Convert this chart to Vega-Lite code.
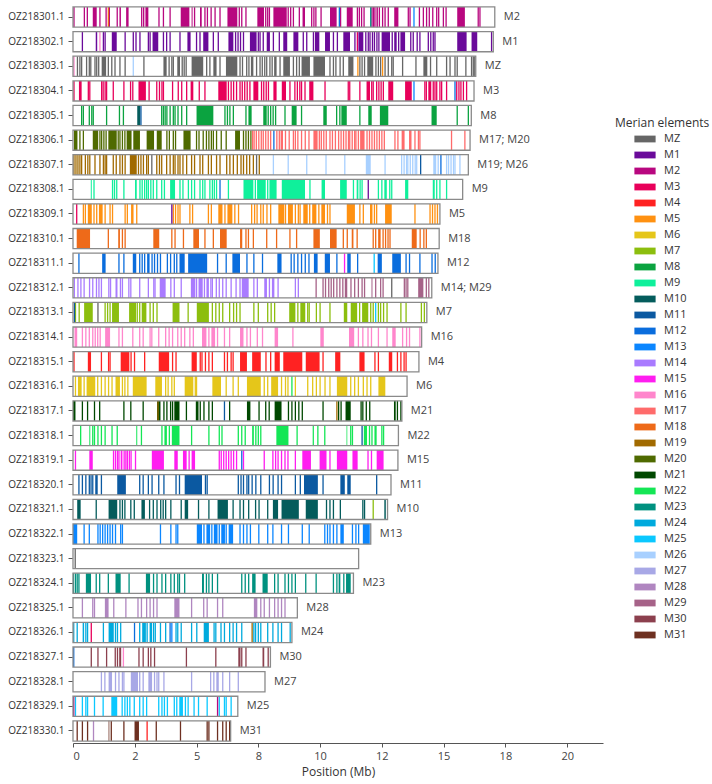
{
"$schema":"https://vega.github.io/schema/vega-lite/v6.json",
"width":530,"height":738,
"autosize":"none",
"padding":{"left":73,"top":5,"right":109,"bottom":41},
"config":{"font":"Open Sans","view":{"stroke":null}},
"datasets":{
"chroms":[
{"c":1,"name":"OZ218301.1","st":0,"len":17.07,"lab":"M2"},
{"c":2,"name":"OZ218302.1","st":0,"len":17.01,"lab":"M1"},
{"c":3,"name":"OZ218303.1","st":0,"len":16.30,"lab":"MZ"},
{"c":4,"name":"OZ218304.1","st":0,"len":16.23,"lab":"M3"},
{"c":5,"name":"OZ218305.1","st":0,"len":16.12,"lab":"M8"},
{"c":6,"name":"OZ218306.1","st":0,"len":16.07,"lab":"M17; M20"},
{"c":7,"name":"OZ218307.1","st":0,"len":16.00,"lab":"M19; M26"},
{"c":8,"name":"OZ218308.1","st":0,"len":15.77,"lab":"M9"},
{"c":9,"name":"OZ218309.1","st":0,"len":14.85,"lab":"M5"},
{"c":10,"name":"OZ218310.1","st":0,"len":14.82,"lab":"M18"},
{"c":11,"name":"OZ218311.1","st":0,"len":14.77,"lab":"M12"},
{"c":12,"name":"OZ218312.1","st":0,"len":14.52,"lab":"M14; M29"},
{"c":13,"name":"OZ218313.1","st":0,"len":14.32,"lab":"M7"},
{"c":14,"name":"OZ218314.1","st":0,"len":14.11,"lab":"M16"},
{"c":15,"name":"OZ218315.1","st":0,"len":14.00,"lab":"M4"},
{"c":16,"name":"OZ218316.1","st":0,"len":13.52,"lab":"M6"},
{"c":17,"name":"OZ218317.1","st":0,"len":13.31,"lab":"M21"},
{"c":18,"name":"OZ218318.1","st":0,"len":13.17,"lab":"M22"},
{"c":19,"name":"OZ218319.1","st":0,"len":13.15,"lab":"M15"},
{"c":20,"name":"OZ218320.1","st":0,"len":12.87,"lab":"M11"},
{"c":21,"name":"OZ218321.1","st":0,"len":12.73,"lab":"M10"},
{"c":22,"name":"OZ218322.1","st":0,"len":12.05,"lab":"M13"},
{"c":23,"name":"OZ218323.1","st":0,"len":11.56,"lab":""},
{"c":24,"name":"OZ218324.1","st":0,"len":11.35,"lab":"M23"},
{"c":25,"name":"OZ218325.1","st":0,"len":9.08,"lab":"M28"},
{"c":26,"name":"OZ218326.1","st":0,"len":8.86,"lab":"M24"},
{"c":27,"name":"OZ218327.1","st":0,"len":7.99,"lab":"M30"},
{"c":28,"name":"OZ218328.1","st":0,"len":7.77,"lab":"M27"},
{"c":29,"name":"OZ218329.1","st":0,"len":6.67,"lab":"M25"},
{"c":30,"name":"OZ218330.1","st":0,"len":6.38,"lab":"M31"}
],
"blocks":[
{"c":1,"m":"M2","s":0.80,"e":0.96},{"c":1,"m":"M2","s":1.88,"e":1.94},{"c":1,"m":"M2","s":2.15,"e":2.25},{"c":1,"m":"M2","s":2.93,"e":3.05},{"c":1,"m":"M2","s":4.36,"e":4.71},{"c":1,"m":"M2","s":4.80,"e":4.84},{"c":1,"m":"M2","s":5.14,"e":5.21},{"c":1,"m":"M2","s":6.25,"e":6.65},{"c":1,"m":"M2","s":7.46,"e":7.73},{"c":1,"m":"M2","s":8.11,"e":8.65},{"c":1,"m":"M2","s":9.29,"e":9.39},{"c":1,"m":"M2","s":10.40,"e":10.67},{"c":1,"m":"M2","s":11.08,"e":11.32},{"c":1,"m":"M2","s":12.28,"e":12.34},{"c":1,"m":"M2","s":13.0,"e":13.17},{"c":1,"m":"M2","s":15.55,"e":15.86},
{"c":2,"m":"M1","s":0.92,"e":0.98},{"c":2,"m":"M1","s":1.57,"e":1.77},{"c":2,"m":"M1","s":3.22,"e":3.45},{"c":2,"m":"M1","s":4.63,"e":4.76},{"c":2,"m":"M1","s":5.27,"e":5.48},{"c":2,"m":"M1","s":6.29,"e":6.49},{"c":2,"m":"M1","s":7.16,"e":7.43},{"c":2,"m":"M1","s":7.84,"e":7.97},{"c":2,"m":"M1","s":8.51,"e":8.67},{"c":2,"m":"M1","s":8.92,"e":9.12},{"c":2,"m":"M1","s":9.79,"e":9.97},{"c":2,"m":"M1","s":10.2,"e":10.4},{"c":2,"m":"M1","s":10.94,"e":11.21},{"c":2,"m":"M1","s":11.55,"e":11.75},{"c":2,"m":"M1","s":12.49,"e":12.83},{"c":2,"m":"M1","s":13.0,"e":13.1},{"c":2,"m":"M1","s":13.25,"e":13.44},{"c":2,"m":"M1","s":15.55,"e":15.93},{"c":2,"m":"M1","s":16.13,"e":16.36},
{"c":3,"m":"MZ","s":1.16,"e":1.34},{"c":3,"m":"MZ","s":3.66,"e":3.79},{"c":3,"m":"MZ","s":4.22,"e":4.33},{"c":3,"m":"MZ","s":4.80,"e":5.27},{"c":3,"m":"MZ","s":5.68,"e":5.81},{"c":3,"m":"MZ","s":6.19,"e":6.65},{"c":3,"m":"MZ","s":7.2,"e":7.30},{"c":3,"m":"MZ","s":8.14,"e":8.24},{"c":3,"m":"MZ","s":8.51,"e":8.78},{"c":3,"m":"MZ","s":9.25,"e":9.59},{"c":3,"m":"MZ","s":9.73,"e":10.2},{"c":3,"m":"MZ","s":11.14,"e":11.35},{"c":3,"m":"MZ","s":11.91,"e":12.15},{"c":3,"m":"MZ","s":14.18,"e":14.34},
{"c":4,"m":"M3","s":0.24,"e":0.35},{"c":4,"m":"M3","s":2.65,"e":2.95},{"c":4,"m":"M3","s":4.76,"e":4.87},{"c":4,"m":"M3","s":5.88,"e":6.22},{"c":4,"m":"M3","s":7.30,"e":7.50},{"c":4,"m":"M3","s":8.11,"e":8.24},{"c":4,"m":"M3","s":8.45,"e":8.62},{"c":4,"m":"M3","s":9.56,"e":9.73},{"c":4,"m":"M3","s":11.88,"e":12.02},{"c":4,"m":"M3","s":12.76,"e":12.96},{"c":4,"m":"M3","s":13.44,"e":13.71},{"c":4,"m":"M3","s":14.38,"e":14.5},
{"c":5,"m":"M10","s":2.6,"e":2.72},{"c":5,"m":"M8","s":5.0,"e":5.68},{"c":5,"m":"M8","s":7.1,"e":7.23},{"c":5,"m":"M8","s":7.7,"e":7.84},{"c":5,"m":"M8","s":8.85,"e":9.05},{"c":5,"m":"M8","s":10.13,"e":10.27},{"c":5,"m":"M8","s":10.86,"e":11.08},{"c":5,"m":"M8","s":11.95,"e":12.09},{"c":5,"m":"M8","s":12.42,"e":12.76},{"c":5,"m":"M8","s":14.51,"e":14.72},
{"c":6,"m":"M20","s":0.04,"e":0.18},{"c":6,"m":"M20","s":0.80,"e":1.02},{"c":6,"m":"M20","s":1.43,"e":1.77},{"c":6,"m":"M20","s":2.17,"e":2.37},{"c":6,"m":"M20","s":2.44,"e":2.71},{"c":6,"m":"M20","s":2.98,"e":3.28},{"c":6,"m":"M20","s":3.39,"e":3.59},{"c":6,"m":"M20","s":4.47,"e":4.76},{"c":6,"m":"M20","s":6.56,"e":6.76},{"c":6,"m":"M17","s":8.4,"e":8.5},{"c":6,"m":"M17","s":9.73,"e":9.9},{"c":6,"m":"M17","s":11.62,"e":11.8},{"c":6,"m":"M17","s":13.3,"e":13.42},{"c":6,"m":"M17","s":13.6,"e":13.7},
{"c":7,"m":"M19","s":2.3,"e":2.58},{"c":7,"m":"M26","s":11.85,"e":12.05},{"c":7,"m":"M26","s":14.58,"e":14.7},
{"c":8,"m":"M9","s":0.72,"e":0.76},{"c":8,"m":"M9","s":2.51,"e":2.58},{"c":8,"m":"M9","s":3.93,"e":4.13},{"c":8,"m":"M9","s":6.9,"e":7.3},{"c":8,"m":"M9","s":7.45,"e":7.8},{"c":8,"m":"M9","s":7.95,"e":8.24},{"c":8,"m":"M9","s":8.45,"e":9.39},{"c":8,"m":"M9","s":10.06,"e":10.2},{"c":8,"m":"M9","s":10.81,"e":11.08},{"c":8,"m":"M9","s":11.48,"e":11.55},{"c":8,"m":"M9","s":12.6,"e":12.7},{"c":8,"m":"M9","s":13.44,"e":13.57},{"c":8,"m":"M9","s":14.56,"e":14.64},
{"c":9,"m":"M5","s":0.6,"e":0.76},{"c":9,"m":"M5","s":1.05,"e":1.2},{"c":9,"m":"M5","s":2.35,"e":2.45},{"c":9,"m":"M5","s":5.88,"e":6.05},{"c":9,"m":"M5","s":6.25,"e":6.45},{"c":9,"m":"M5","s":8.31,"e":8.55},{"c":9,"m":"M5","s":8.7,"e":8.9},{"c":9,"m":"M5","s":9.32,"e":9.5},{"c":9,"m":"M5","s":9.68,"e":9.85},{"c":9,"m":"M5","s":10.05,"e":10.2},{"c":9,"m":"M5","s":11.08,"e":11.41},{"c":9,"m":"M5","s":12.02,"e":12.12},{"c":9,"m":"M5","s":12.63,"e":12.9},
{"c":10,"m":"M18","s":0.15,"e":0.69},{"c":10,"m":"M18","s":1.83,"e":1.9},{"c":10,"m":"M18","s":3.25,"e":3.49},{"c":10,"m":"M18","s":4.87,"e":5.1},{"c":10,"m":"M18","s":5.95,"e":6.22},{"c":10,"m":"M18","s":6.76,"e":6.85},{"c":10,"m":"M18","s":9.73,"e":9.99},{"c":10,"m":"M18","s":10.4,"e":10.67},{"c":10,"m":"M18","s":11.28,"e":11.35},{"c":10,"m":"M18","s":12.35,"e":12.45},{"c":10,"m":"M18","s":13.71,"e":13.91},
{"c":11,"m":"M12","s":1.18,"e":1.32},{"c":11,"m":"M12","s":2.42,"e":2.56},{"c":11,"m":"M12","s":3.0,"e":3.1},{"c":11,"m":"M12","s":4.31,"e":4.52},{"c":11,"m":"M12","s":4.66,"e":5.43},{"c":11,"m":"M12","s":6.45,"e":6.76},{"c":11,"m":"M12","s":8.27,"e":8.44},{"c":11,"m":"M12","s":9.75,"e":9.9},{"c":11,"m":"M12","s":10.19,"e":10.4},{"c":11,"m":"M12","s":11.1,"e":11.24},{"c":11,"m":"M12","s":12.33,"e":12.5},{"c":11,"m":"M12","s":12.92,"e":13.27},
{"c":12,"m":"M14","s":0.03,"e":0.08},{"c":12,"m":"M14","s":1.72,"e":1.80},{"c":12,"m":"M14","s":3.51,"e":3.75},{"c":12,"m":"M14","s":4.77,"e":4.95},{"c":12,"m":"M14","s":5.08,"e":5.25},{"c":12,"m":"M14","s":5.4,"e":5.5},{"c":12,"m":"M14","s":6.83,"e":7.11},{"c":12,"m":"M14","s":7.74,"e":7.85},{"c":12,"m":"M14","s":8.05,"e":8.15},{"c":12,"m":"M29","s":11.0,"e":11.1},{"c":12,"m":"M29","s":12.08,"e":12.12},{"c":12,"m":"M29","s":13.97,"e":14.18},
{"c":13,"m":"M7","s":0.45,"e":0.8},{"c":13,"m":"M7","s":1.58,"e":1.86},{"c":13,"m":"M7","s":2.27,"e":2.55},{"c":13,"m":"M7","s":2.78,"e":2.97},{"c":13,"m":"M7","s":4.03,"e":4.31},{"c":13,"m":"M7","s":5.01,"e":5.5},{"c":13,"m":"M7","s":8.75,"e":9.0},{"c":13,"m":"M7","s":9.2,"e":9.4},{"c":13,"m":"M7","s":10.96,"e":11.1},{"c":13,"m":"M7","s":11.24,"e":11.5},{"c":13,"m":"M7","s":11.7,"e":11.95},
{"c":14,"m":"M16","s":0.06,"e":0.17},{"c":14,"m":"M16","s":1.3,"e":1.5},{"c":14,"m":"M16","s":5.22,"e":5.4},{"c":14,"m":"M16","s":5.6,"e":5.75},{"c":14,"m":"M16","s":6.76,"e":6.9},{"c":14,"m":"M16","s":8.16,"e":8.3},{"c":14,"m":"M16","s":10.01,"e":10.15},{"c":14,"m":"M16","s":11.17,"e":11.38},{"c":14,"m":"M16","s":12.92,"e":13.06},
{"c":15,"m":"M4","s":0.6,"e":0.73},{"c":15,"m":"M4","s":1.93,"e":2.28},{"c":15,"m":"M4","s":3.47,"e":3.89},{"c":15,"m":"M4","s":4.8,"e":5.01},{"c":15,"m":"M4","s":6.76,"e":7.04},{"c":15,"m":"M4","s":7.25,"e":7.6},{"c":15,"m":"M4","s":8.16,"e":8.37},{"c":15,"m":"M4","s":8.51,"e":9.28},{"c":15,"m":"M4","s":9.42,"e":9.98},{"c":15,"m":"M4","s":10.61,"e":10.82},{"c":15,"m":"M4","s":11.59,"e":11.8},{"c":15,"m":"M4","s":12.78,"e":12.92},
{"c":16,"m":"M6","s":0.2,"e":0.35},{"c":16,"m":"M6","s":0.55,"e":0.9},{"c":16,"m":"M6","s":1.72,"e":1.9},{"c":16,"m":"M6","s":2.42,"e":2.98},{"c":16,"m":"M6","s":3.33,"e":3.6},{"c":16,"m":"M6","s":4.52,"e":4.87},{"c":16,"m":"M6","s":5.64,"e":5.99},{"c":16,"m":"M6","s":7.04,"e":7.6},{"c":16,"m":"M6","s":8.02,"e":8.3},{"c":16,"m":"M6","s":10.68,"e":11.1},{"c":16,"m":"M6","s":12.36,"e":12.64},
{"c":17,"m":"M21","s":0.0,"e":0.1},{"c":17,"m":"M21","s":3.4,"e":3.54},{"c":17,"m":"M21","s":4.1,"e":4.31},{"c":17,"m":"M21","s":4.97,"e":5.08},{"c":17,"m":"M21","s":7.04,"e":7.18},{"c":17,"m":"M21","s":8.16,"e":8.44},{"c":17,"m":"M21","s":11.03,"e":11.24},{"c":17,"m":"M21","s":12.99,"e":13.06},
{"c":18,"m":"M22","s":0.66,"e":0.7},{"c":18,"m":"M22","s":2.56,"e":2.6},{"c":18,"m":"M22","s":3.7,"e":3.8},{"c":18,"m":"M22","s":4.0,"e":4.31},{"c":18,"m":"M22","s":7.25,"e":7.32},{"c":18,"m":"M22","s":8.23,"e":8.72},{"c":18,"m":"M22","s":9.7,"e":9.75},{"c":18,"m":"M22","s":11.07,"e":11.1},{"c":18,"m":"M22","s":11.77,"e":11.9},{"c":18,"m":"M22","s":12.2,"e":12.29},
{"c":19,"m":"M15","s":0.66,"e":0.8},{"c":19,"m":"M15","s":1.93,"e":2.0},{"c":19,"m":"M15","s":3.19,"e":3.68},{"c":19,"m":"M15","s":4.1,"e":4.24},{"c":19,"m":"M15","s":4.45,"e":4.6},{"c":19,"m":"M15","s":4.8,"e":4.94},{"c":19,"m":"M15","s":9.28,"e":9.63},{"c":19,"m":"M15","s":9.98,"e":10.26},{"c":19,"m":"M15","s":10.68,"e":11.1},{"c":19,"m":"M15","s":11.31,"e":11.52},{"c":19,"m":"M15","s":12.29,"e":12.57},
{"c":20,"m":"M11","s":0.9,"e":1.0},{"c":20,"m":"M11","s":1.79,"e":2.14},{"c":20,"m":"M11","s":4.52,"e":5.22},{"c":20,"m":"M11","s":9.35,"e":9.91},{"c":20,"m":"M11","s":10.82,"e":11.0},{"c":20,"m":"M11","s":11.1,"e":11.24},
{"c":21,"m":"M10","s":0.17,"e":0.31},{"c":21,"m":"M10","s":1.44,"e":1.79},{"c":21,"m":"M10","s":2.77,"e":2.91},{"c":21,"m":"M10","s":4.52,"e":4.66},{"c":21,"m":"M10","s":5.85,"e":6.27},{"c":21,"m":"M10","s":8.09,"e":8.3},{"c":21,"m":"M10","s":8.44,"e":9.14},{"c":21,"m":"M10","s":9.42,"e":9.91},{"c":21,"m":"M10","s":12.6,"e":12.66},
{"c":22,"m":"M13","s":0.0,"e":0.17},{"c":22,"m":"M13","s":5.01,"e":5.22},{"c":22,"m":"M13","s":5.4,"e":5.55},{"c":22,"m":"M13","s":5.7,"e":5.85},{"c":22,"m":"M13","s":6.0,"e":6.15},{"c":22,"m":"M13","s":6.3,"e":6.48},{"c":22,"m":"M13","s":10.82,"e":10.96},{"c":22,"m":"M13","s":11.73,"e":12.01},
{"c":24,"m":"M23","s":0.52,"e":0.73},{"c":24,"m":"M23","s":1.72,"e":1.93},{"c":24,"m":"M23","s":2.95,"e":3.12},{"c":24,"m":"M23","s":5.22,"e":5.3},{"c":24,"m":"M23","s":7.25,"e":7.39},{"c":24,"m":"M23","s":7.67,"e":7.88},{"c":24,"m":"M23","s":10.75,"e":10.82},{"c":24,"m":"M23","s":11.05,"e":11.24},
{"c":25,"m":"M28","s":1.29,"e":1.44},{"c":25,"m":"M28","s":4.1,"e":4.31},{"c":25,"m":"M28","s":7.32,"e":7.46},
{"c":26,"m":"M24","s":0.39,"e":0.45},{"c":26,"m":"M24","s":1.44,"e":1.65},{"c":26,"m":"M24","s":2.8,"e":2.95},{"c":26,"m":"M24","s":3.1,"e":3.2},{"c":26,"m":"M24","s":5.29,"e":5.5},
{"c":27,"m":"M30","s":1.87,"e":1.95},{"c":27,"m":"M30","s":6.69,"e":6.78},{"c":27,"m":"M30","s":7.67,"e":7.74},
{"c":28,"m":"M27","s":1.44,"e":1.58},{"c":28,"m":"M27","s":2.34,"e":2.63},{"c":28,"m":"M27","s":3.05,"e":3.2},{"c":28,"m":"M27","s":5.8,"e":5.9},
{"c":29,"m":"M25","s":1.55,"e":1.79},{"c":29,"m":"M25","s":4.3,"e":4.45},
{"c":30,"m":"M31","s":1.44,"e":1.47},{"c":30,"m":"M31","s":2.49,"e":2.67}
],
"genes":[
{"c":1,"m":"M2","p":0.04},{"c":1,"m":"M2","p":0.46},{"c":1,"m":"M2","p":0.58},{"c":1,"m":"M2","p":1.09},{"c":1,"m":"M2","p":1.34},{"c":1,"m":"M2","p":1.47},{"c":1,"m":"M2","p":1.79},{"c":1,"m":"M2","p":2.78},{"c":1,"m":"M2","p":2.86},{"c":1,"m":"M2","p":3.48},{"c":1,"m":"M2","p":3.66},{"c":1,"m":"M2","p":3.93},{"c":1,"m":"M2","p":4.92},{"c":1,"m":"M2","p":5.34},{"c":1,"m":"M2","p":5.44},{"c":1,"m":"M2","p":5.59},{"c":1,"m":"M2","p":5.75},{"c":1,"m":"M2","p":5.95},{"c":1,"m":"M2","p":6.73},{"c":1,"m":"M2","p":6.83},{"c":1,"m":"M2","p":7.00},{"c":1,"m":"M2","p":7.80},{"c":1,"m":"M2","p":7.88},{"c":1,"m":"M2","p":7.95},{"c":1,"m":"M2","p":8.71},{"c":1,"m":"M2","p":8.81},{"c":1,"m":"M2","p":8.92},{"c":1,"m":"M2","p":9.16},{"c":1,"m":"M2","p":9.66},{"c":1,"m":"M2","p":9.75},{"c":1,"m":"M2","p":9.83},{"c":1,"m":"M2","p":10.04},{"c":1,"m":"M2","p":10.83},{"c":1,"m":"M2","p":11.51},{"c":1,"m":"M2","p":11.59},{"c":1,"m":"M2","p":11.68},{"c":1,"m":"M2","p":11.78},{"c":1,"m":"M2","p":12.10},{"c":1,"m":"M2","p":12.16},{"c":1,"m":"M2","p":12.22},{"c":1,"m":"M2","p":12.40},{"c":1,"m":"M2","p":12.53},{"c":1,"m":"M2","p":12.63},{"c":1,"m":"M2","p":12.76},{"c":1,"m":"M2","p":13.57},{"c":1,"m":"M2","p":13.64},{"c":1,"m":"M2","p":14.02},{"c":1,"m":"M2","p":14.18},{"c":1,"m":"M2","p":14.31},{"c":1,"m":"M2","p":14.42},{"c":1,"m":"M2","p":14.56},{"c":1,"m":"M2","p":14.72},{"c":1,"m":"M2","p":14.80},{"c":1,"m":"M2","p":14.99},{"c":1,"m":"M2","p":15.10},{"c":1,"m":"M2","p":16.40},{"c":1,"m":"M2","p":16.47},{"c":1,"m":"M18","p":1.43},{"c":1,"m":"M12","p":10.78},{"c":1,"m":"M23","p":12.05},{"c":1,"m":"M13","p":13.80},
{"c":2,"m":"M1","p":0.38},{"c":2,"m":"M1","p":1.23},{"c":2,"m":"M1","p":1.30},{"c":2,"m":"M1","p":2.11},{"c":2,"m":"M1","p":2.44},{"c":2,"m":"M1","p":2.55},{"c":2,"m":"M1","p":2.71},{"c":2,"m":"M1","p":3.05},{"c":2,"m":"M1","p":3.12},{"c":2,"m":"M1","p":3.66},{"c":2,"m":"M1","p":3.79},{"c":2,"m":"M1","p":3.93},{"c":2,"m":"M1","p":4.33},{"c":2,"m":"M1","p":5.00},{"c":2,"m":"M1","p":5.14},{"c":2,"m":"M1","p":5.68},{"c":2,"m":"M1","p":5.88},{"c":2,"m":"M1","p":6.58},{"c":2,"m":"M1","p":6.68},{"c":2,"m":"M1","p":6.78},{"c":2,"m":"M1","p":6.9},{"c":2,"m":"M1","p":7.50},{"c":2,"m":"M1","p":7.57},{"c":2,"m":"M1","p":7.70},{"c":2,"m":"M1","p":8.11},{"c":2,"m":"M1","p":8.35},{"c":2,"m":"M1","p":9.32},{"c":2,"m":"M1","p":9.46},{"c":2,"m":"M1","p":9.73},{"c":2,"m":"M1","p":10.54},{"c":2,"m":"M1","p":10.70},{"c":2,"m":"M1","p":11.41},{"c":2,"m":"M1","p":11.85},{"c":2,"m":"M1","p":11.95},{"c":2,"m":"M1","p":12.02},{"c":2,"m":"M1","p":12.12},{"c":2,"m":"M1","p":12.2},{"c":2,"m":"M1","p":12.3},{"c":2,"m":"M1","p":12.38},{"c":2,"m":"M1","p":12.92},{"c":2,"m":"M1","p":13.18},{"c":2,"m":"M1","p":13.67},{"c":2,"m":"M1","p":13.77},{"c":2,"m":"M1","p":13.93},{"c":2,"m":"M1","p":14.04},{"c":2,"m":"M1","p":14.38},{"c":2,"m":"M1","p":14.48},{"c":2,"m":"M1","p":14.58},{"c":2,"m":"M1","p":14.65},{"c":2,"m":"M1","p":16.94},{"c":2,"m":"M16","p":1.09},{"c":2,"m":"M3","p":11.51},
{"c":3,"m":"MZ","p":0.18},{"c":3,"m":"MZ","p":0.28},{"c":3,"m":"MZ","p":0.35},{"c":3,"m":"MZ","p":0.55},{"c":3,"m":"MZ","p":0.66},{"c":3,"m":"MZ","p":0.72},{"c":3,"m":"MZ","p":0.89},{"c":3,"m":"MZ","p":0.96},{"c":3,"m":"MZ","p":1.04},{"c":3,"m":"MZ","p":1.43},{"c":3,"m":"MZ","p":1.57},{"c":3,"m":"MZ","p":1.70},{"c":3,"m":"MZ","p":1.90},{"c":3,"m":"MZ","p":2.11},{"c":3,"m":"MZ","p":2.87},{"c":3,"m":"MZ","p":3.89},{"c":3,"m":"MZ","p":4.0},{"c":3,"m":"MZ","p":4.06},{"c":3,"m":"MZ","p":4.42},{"c":3,"m":"MZ","p":4.5},{"c":3,"m":"MZ","p":4.58},{"c":3,"m":"MZ","p":5.41},{"c":3,"m":"MZ","p":5.54},{"c":3,"m":"MZ","p":5.95},{"c":3,"m":"MZ","p":6.76},{"c":3,"m":"MZ","p":6.86},{"c":3,"m":"MZ","p":7.03},{"c":3,"m":"MZ","p":7.12},{"c":3,"m":"MZ","p":7.43},{"c":3,"m":"MZ","p":7.57},{"c":3,"m":"MZ","p":7.66},{"c":3,"m":"MZ","p":7.76},{"c":3,"m":"MZ","p":7.84},{"c":3,"m":"MZ","p":7.97},{"c":3,"m":"MZ","p":8.06},{"c":3,"m":"MZ","p":8.38},{"c":3,"m":"MZ","p":8.92},{"c":3,"m":"MZ","p":9.05},{"c":3,"m":"MZ","p":9.16},{"c":3,"m":"MZ","p":10.4},{"c":3,"m":"MZ","p":10.54},{"c":3,"m":"MZ","p":10.64},{"c":3,"m":"MZ","p":10.81},{"c":3,"m":"MZ","p":10.94},{"c":3,"m":"MZ","p":11.61},{"c":3,"m":"MZ","p":11.7},{"c":3,"m":"MZ","p":11.8},{"c":3,"m":"MZ","p":12.26},{"c":3,"m":"MZ","p":12.36},{"c":3,"m":"MZ","p":12.45},{"c":3,"m":"MZ","p":12.63},{"c":3,"m":"MZ","p":12.76},{"c":3,"m":"MZ","p":12.9},{"c":3,"m":"MZ","p":12.96},{"c":3,"m":"MZ","p":13.34},{"c":3,"m":"MZ","p":13.88},{"c":3,"m":"MZ","p":14.47},{"c":3,"m":"MZ","p":14.72},{"c":3,"m":"MZ","p":15.12},{"c":3,"m":"MZ","p":15.26},{"c":3,"m":"MZ","p":15.46},{"c":3,"m":"MZ","p":15.55},{"c":3,"m":"MZ","p":15.9},{"c":3,"m":"MZ","p":16.13},{"c":3,"m":"MZ","p":16.2},{"c":3,"m":"MZ","p":16.26},{"c":3,"m":"M16","p":0.04},{"c":3,"m":"M26","p":2.44},{"c":3,"m":"M5","p":11.53},{"c":3,"m":"M5","p":12.53},
{"c":4,"m":"M3","p":0.04},{"c":4,"m":"M3","p":0.62},{"c":4,"m":"M3","p":0.68},{"c":4,"m":"M3","p":1.16},{"c":4,"m":"M3","p":1.22},{"c":4,"m":"M3","p":1.3},{"c":4,"m":"M3","p":1.36},{"c":4,"m":"M3","p":1.63},{"c":4,"m":"M3","p":2.06},{"c":4,"m":"M3","p":2.33},{"c":4,"m":"M3","p":2.42},{"c":4,"m":"M3","p":3.08},{"c":4,"m":"M3","p":3.39},{"c":4,"m":"M3","p":3.5},{"c":4,"m":"M3","p":3.6},{"c":4,"m":"M3","p":3.66},{"c":4,"m":"M3","p":4.03},{"c":4,"m":"M3","p":4.26},{"c":4,"m":"M3","p":4.40},{"c":4,"m":"M3","p":4.60},{"c":4,"m":"M3","p":5.11},{"c":4,"m":"M3","p":5.34},{"c":4,"m":"M3","p":6.29},{"c":4,"m":"M3","p":6.4},{"c":4,"m":"M3","p":6.5},{"c":4,"m":"M3","p":6.62},{"c":4,"m":"M3","p":6.76},{"c":4,"m":"M3","p":6.85},{"c":4,"m":"M3","p":6.95},{"c":4,"m":"M3","p":7.05},{"c":4,"m":"M3","p":7.16},{"c":4,"m":"M3","p":7.63},{"c":4,"m":"M3","p":7.72},{"c":4,"m":"M3","p":7.82},{"c":4,"m":"M3","p":7.91},{"c":4,"m":"M3","p":8.78},{"c":4,"m":"M3","p":8.98},{"c":4,"m":"M3","p":9.08},{"c":4,"m":"M3","p":9.18},{"c":4,"m":"M3","p":9.25},{"c":4,"m":"M3","p":9.39},{"c":4,"m":"M3","p":10.2},{"c":4,"m":"M3","p":11.14},{"c":4,"m":"M3","p":11.2},{"c":4,"m":"M3","p":11.61},{"c":4,"m":"M3","p":12.09},{"c":4,"m":"M3","p":12.15},{"c":4,"m":"M3","p":12.29},{"c":4,"m":"M3","p":12.38},{"c":4,"m":"M3","p":12.47},{"c":4,"m":"M3","p":12.56},{"c":4,"m":"M3","p":14.24},{"c":4,"m":"M3","p":14.3},{"c":4,"m":"M3","p":14.58},{"c":4,"m":"M3","p":14.65},{"c":4,"m":"M3","p":14.72},{"c":4,"m":"M3","p":14.85},{"c":4,"m":"M3","p":14.92},{"c":4,"m":"M3","p":15.12},{"c":4,"m":"M3","p":15.53},{"c":4,"m":"M3","p":15.62},{"c":4,"m":"M3","p":15.7},{"c":4,"m":"M3","p":15.8},{"c":4,"m":"M3","p":15.93},{"c":4,"m":"M13","p":13.80},{"c":4,"m":"M12","p":15.46},
{"c":5,"m":"M8","p":0.35},{"c":5,"m":"M8","p":0.42},{"c":5,"m":"M8","p":0.66},{"c":5,"m":"M8","p":0.76},{"c":5,"m":"M8","p":0.82},{"c":5,"m":"M8","p":1.36},{"c":5,"m":"M8","p":1.88},{"c":5,"m":"M8","p":2.04},{"c":5,"m":"M8","p":3.59},{"c":5,"m":"M8","p":3.66},{"c":5,"m":"M8","p":3.73},{"c":5,"m":"M8","p":3.8},{"c":5,"m":"M8","p":3.93},{"c":5,"m":"M8","p":4.06},{"c":5,"m":"M8","p":4.13},{"c":5,"m":"M8","p":4.25},{"c":5,"m":"M8","p":4.4},{"c":5,"m":"M8","p":4.6},{"c":5,"m":"M8","p":6.15},{"c":5,"m":"M8","p":6.25},{"c":5,"m":"M8","p":6.35},{"c":5,"m":"M8","p":6.49},{"c":5,"m":"M8","p":7.0},{"c":5,"m":"M8","p":7.9},{"c":5,"m":"M8","p":8.0},{"c":5,"m":"M8","p":8.1},{"c":5,"m":"M8","p":8.2},{"c":5,"m":"M8","p":8.58},{"c":5,"m":"M8","p":9.25},{"c":5,"m":"M8","p":10.67},{"c":5,"m":"M8","p":10.8},{"c":5,"m":"M8","p":11.61},{"c":5,"m":"M8","p":15.55},{"c":5,"m":"M8","p":16.0},{"c":5,"m":"M11","p":2.75},
{"c":6,"m":"M20","p":0.28},{"c":6,"m":"M20","p":0.42},{"c":6,"m":"M20","p":1.09},{"c":6,"m":"M20","p":1.16},{"c":6,"m":"M20","p":1.25},{"c":6,"m":"M20","p":1.34},{"c":6,"m":"M20","p":1.83},{"c":6,"m":"M20","p":1.9},{"c":6,"m":"M20","p":2.0},{"c":6,"m":"M20","p":2.1},{"c":6,"m":"M20","p":3.8},{"c":6,"m":"M20","p":3.9},{"c":6,"m":"M20","p":4.06},{"c":6,"m":"M20","p":4.15},{"c":6,"m":"M20","p":5.0},{"c":6,"m":"M20","p":5.1},{"c":6,"m":"M20","p":5.27},{"c":6,"m":"M20","p":5.4},{"c":6,"m":"M20","p":5.5},{"c":6,"m":"M20","p":5.6},{"c":6,"m":"M20","p":5.68},{"c":6,"m":"M20","p":5.81},{"c":6,"m":"M20","p":6.0},{"c":6,"m":"M20","p":6.2},{"c":6,"m":"M20","p":6.9},{"c":6,"m":"M20","p":7.0},{"c":6,"m":"M20","p":7.1},{"c":6,"m":"M20","p":7.2},
{"c":6,"m":"M17","p":7.27},{"c":6,"m":"M17","p":7.33},{"c":6,"m":"M17","p":7.42},{"c":6,"m":"M17","p":7.52},{"c":6,"m":"M17","p":7.62},{"c":6,"m":"M17","p":7.7},{"c":6,"m":"M17","p":7.8},{"c":6,"m":"M17","p":7.9},{"c":6,"m":"M17","p":8.0},{"c":6,"m":"M17","p":8.25},{"c":6,"m":"M17","p":8.35},{"c":6,"m":"M17","p":8.6},{"c":6,"m":"M17","p":8.75},{"c":6,"m":"M17","p":8.92},{"c":6,"m":"M17","p":9.0},{"c":6,"m":"M17","p":9.1},{"c":6,"m":"M17","p":9.25},{"c":6,"m":"M17","p":9.4},{"c":6,"m":"M17","p":9.55},{"c":6,"m":"M17","p":9.97},{"c":6,"m":"M17","p":10.05},{"c":6,"m":"M17","p":10.15},{"c":6,"m":"M17","p":10.25},{"c":6,"m":"M17","p":10.4},{"c":6,"m":"M17","p":10.5},{"c":6,"m":"M17","p":10.62},{"c":6,"m":"M17","p":10.75},{"c":6,"m":"M17","p":10.85},{"c":6,"m":"M17","p":10.95},{"c":6,"m":"M17","p":11.05},{"c":6,"m":"M17","p":11.15},{"c":6,"m":"M17","p":11.2},{"c":6,"m":"M17","p":11.3},{"c":6,"m":"M17","p":11.4},{"c":6,"m":"M17","p":11.45},{"c":6,"m":"M17","p":11.55},{"c":6,"m":"M17","p":11.9},{"c":6,"m":"M17","p":12.0},{"c":6,"m":"M17","p":12.1},{"c":6,"m":"M17","p":12.2},{"c":6,"m":"M17","p":12.3},{"c":6,"m":"M17","p":12.4},{"c":6,"m":"M17","p":12.5},{"c":6,"m":"M17","p":12.6},{"c":6,"m":"M17","p":13.03},{"c":6,"m":"M17","p":13.15},{"c":6,"m":"M17","p":13.84},{"c":6,"m":"M17","p":13.98},{"c":6,"m":"M17","p":14.04},{"c":6,"m":"M17","p":15.32},{"c":6,"m":"M17","p":15.86},{"c":6,"m":"M12","p":8.13},
{"c":7,"m":"M19","p":0.04},{"c":7,"m":"M19","p":0.12},{"c":7,"m":"M19","p":0.2},{"c":7,"m":"M19","p":0.28},{"c":7,"m":"M19","p":0.35},{"c":7,"m":"M19","p":0.5},{"c":7,"m":"M19","p":0.6},{"c":7,"m":"M19","p":0.68},{"c":7,"m":"M19","p":0.89},{"c":7,"m":"M19","p":1.09},{"c":7,"m":"M19","p":1.23},{"c":7,"m":"M19","p":1.3},{"c":7,"m":"M19","p":1.36},{"c":7,"m":"M19","p":1.63},{"c":7,"m":"M19","p":1.75},{"c":7,"m":"M19","p":1.9},{"c":7,"m":"M19","p":2.0},{"c":7,"m":"M19","p":2.11},{"c":7,"m":"M19","p":2.65},{"c":7,"m":"M19","p":2.75},{"c":7,"m":"M19","p":2.85},{"c":7,"m":"M19","p":2.98},{"c":7,"m":"M19","p":3.05},{"c":7,"m":"M19","p":3.39},{"c":7,"m":"M19","p":3.5},{"c":7,"m":"M19","p":3.59},{"c":7,"m":"M19","p":3.79},{"c":7,"m":"M19","p":3.93},{"c":7,"m":"M19","p":4.06},{"c":7,"m":"M19","p":4.13},{"c":7,"m":"M19","p":4.25},{"c":7,"m":"M19","p":4.33},{"c":7,"m":"M19","p":4.45},{"c":7,"m":"M19","p":4.6},{"c":7,"m":"M19","p":4.8},{"c":7,"m":"M19","p":4.92},{"c":7,"m":"M19","p":5.14},{"c":7,"m":"M19","p":5.25},{"c":7,"m":"M19","p":5.48},{"c":7,"m":"M19","p":5.6},{"c":7,"m":"M19","p":5.81},{"c":7,"m":"M19","p":5.95},{"c":7,"m":"M19","p":6.22},{"c":7,"m":"M19","p":6.35},{"c":7,"m":"M19","p":6.49},{"c":7,"m":"M19","p":6.65},{"c":7,"m":"M19","p":6.8},{"c":7,"m":"M19","p":6.9},{"c":7,"m":"M19","p":7.03},{"c":7,"m":"M19","p":7.15},{"c":7,"m":"M19","p":7.3},{"c":7,"m":"M19","p":7.54},{"c":7,"m":"MZ","p":3.19},{"c":7,"m":"MZ","p":7.43},
{"c":7,"m":"M26","p":8.11},{"c":7,"m":"M26","p":8.71},{"c":7,"m":"M26","p":9.46},{"c":7,"m":"M26","p":10.24},{"c":7,"m":"M26","p":11.0},{"c":7,"m":"M26","p":12.63},{"c":7,"m":"M26","p":13.3},{"c":7,"m":"M26","p":13.4},{"c":7,"m":"M26","p":13.5},{"c":7,"m":"M26","p":13.55},{"c":7,"m":"M26","p":13.65},{"c":7,"m":"M26","p":13.75},{"c":7,"m":"M26","p":13.85},{"c":7,"m":"M26","p":13.91},{"c":7,"m":"M26","p":14.78},{"c":7,"m":"M26","p":15.12},{"c":7,"m":"M26","p":15.2},{"c":7,"m":"M26","p":15.3},{"c":7,"m":"M26","p":15.4},{"c":7,"m":"M26","p":15.46},{"c":7,"m":"M26","p":15.66},{"c":7,"m":"M11","p":14.07},{"c":7,"m":"M12","p":14.89},
{"c":8,"m":"M9","p":0.85},{"c":8,"m":"M9","p":1.6},{"c":8,"m":"M9","p":1.68},{"c":8,"m":"M9","p":1.77},{"c":8,"m":"M9","p":2.06},{"c":8,"m":"M9","p":2.71},{"c":8,"m":"M9","p":2.8},{"c":8,"m":"M9","p":2.9},{"c":8,"m":"M9","p":2.98},{"c":8,"m":"M9","p":3.05},{"c":8,"m":"M9","p":3.15},{"c":8,"m":"M9","p":3.25},{"c":8,"m":"M9","p":3.39},{"c":8,"m":"M9","p":3.59},{"c":8,"m":"M9","p":3.7},{"c":8,"m":"M9","p":4.33},{"c":8,"m":"M9","p":4.45},{"c":8,"m":"M9","p":4.67},{"c":8,"m":"M9","p":4.8},{"c":8,"m":"M9","p":4.92},{"c":8,"m":"M9","p":5.14},{"c":8,"m":"M9","p":5.25},{"c":8,"m":"M9","p":5.34},{"c":8,"m":"M9","p":5.54},{"c":8,"m":"M9","p":5.64},{"c":8,"m":"M9","p":5.72},{"c":8,"m":"M9","p":5.81},{"c":8,"m":"M9","p":6.29},{"c":8,"m":"M9","p":7.38},{"c":8,"m":"M9","p":7.88},{"c":8,"m":"M9","p":9.59},{"c":8,"m":"M9","p":11.35},{"c":8,"m":"M9","p":11.62},{"c":8,"m":"M9","p":11.7},{"c":8,"m":"M9","p":12.36},{"c":8,"m":"M9","p":12.5},{"c":8,"m":"M9","p":12.82},{"c":8,"m":"M9","p":12.9},{"c":8,"m":"M9","p":14.72},{"c":8,"m":"M9","p":14.85},{"c":8,"m":"M9","p":15.12},{"c":8,"m":"M12","p":5.95},{"c":8,"m":"M1","p":11.95},
{"c":9,"m":"M5","p":0.42},{"c":9,"m":"M5","p":0.5},{"c":9,"m":"M5","p":0.85},{"c":9,"m":"M5","p":0.96},{"c":9,"m":"M5","p":1.3},{"c":9,"m":"M5","p":1.5},{"c":9,"m":"M5","p":1.6},{"c":9,"m":"M5","p":2.11},{"c":9,"m":"M5","p":2.2},{"c":9,"m":"M5","p":2.58},{"c":9,"m":"M5","p":4.06},{"c":9,"m":"M5","p":4.15},{"c":9,"m":"M5","p":4.25},{"c":9,"m":"M5","p":4.33},{"c":9,"m":"M5","p":4.73},{"c":9,"m":"M5","p":4.84},{"c":9,"m":"M5","p":5.48},{"c":9,"m":"M5","p":5.6},{"c":9,"m":"M5","p":6.15},{"c":9,"m":"M5","p":6.55},{"c":9,"m":"M5","p":6.7},{"c":9,"m":"M5","p":7.23},{"c":9,"m":"M5","p":7.35},{"c":9,"m":"M5","p":7.45},{"c":9,"m":"M5","p":7.6},{"c":9,"m":"M5","p":7.7},{"c":9,"m":"M5","p":7.85},{"c":9,"m":"M5","p":8.0},{"c":9,"m":"M5","p":8.6},{"c":9,"m":"M5","p":9.0},{"c":9,"m":"M5","p":9.12},{"c":9,"m":"M5","p":9.19},{"c":9,"m":"M5","p":9.58},{"c":9,"m":"M5","p":9.95},{"c":9,"m":"M5","p":10.3},{"c":9,"m":"M5","p":10.4},{"c":9,"m":"M5","p":11.61},{"c":9,"m":"M5","p":11.75},{"c":9,"m":"M5","p":12.2},{"c":9,"m":"M5","p":12.29},{"c":9,"m":"M5","p":13.84},{"c":9,"m":"M5","p":14.45},{"c":9,"m":"M5","p":14.55},{"c":9,"m":"M5","p":14.65},{"c":9,"m":"M5","p":14.75},{"c":9,"m":"M3","p":0.15},{"c":9,"m":"M1","p":4.0},
{"c":10,"m":"M18","p":1.43},{"c":10,"m":"M18","p":2.0},{"c":10,"m":"M18","p":2.11},{"c":10,"m":"M18","p":4.0},{"c":10,"m":"M18","p":4.13},{"c":10,"m":"M18","p":4.47},{"c":10,"m":"M18","p":5.34},{"c":10,"m":"M18","p":5.68},{"c":10,"m":"M18","p":7.0},{"c":10,"m":"M18","p":7.1},{"c":10,"m":"M18","p":7.3},{"c":10,"m":"M18","p":7.84},{"c":10,"m":"M18","p":8.24},{"c":10,"m":"M18","p":8.78},{"c":10,"m":"M18","p":9.05},{"c":10,"m":"M18","p":10.94},{"c":10,"m":"M18","p":11.1},{"c":10,"m":"M18","p":11.5},{"c":10,"m":"M18","p":12.15},{"c":10,"m":"M18","p":12.25},{"c":10,"m":"M18","p":12.55},{"c":10,"m":"M18","p":12.65},{"c":10,"m":"M18","p":12.75},{"c":10,"m":"M18","p":12.83},{"c":10,"m":"M18","p":14.05},{"c":10,"m":"M18","p":14.2},{"c":10,"m":"M18","p":14.3},
{"c":11,"m":"M12","p":0.24},{"c":11,"m":"M12","p":1.86},{"c":11,"m":"M12","p":2.06},{"c":11,"m":"M12","p":2.7},{"c":11,"m":"M12","p":2.8},{"c":11,"m":"M12","p":2.9},{"c":11,"m":"M12","p":3.2},{"c":11,"m":"M12","p":3.3},{"c":11,"m":"M12","p":3.42},{"c":11,"m":"M12","p":3.54},{"c":11,"m":"M12","p":3.82},{"c":11,"m":"M12","p":3.95},{"c":11,"m":"M12","p":4.1},{"c":11,"m":"M12","p":4.2},{"c":11,"m":"M12","p":5.85},{"c":11,"m":"M12","p":6.2},{"c":11,"m":"M12","p":7.04},{"c":11,"m":"M12","p":7.32},{"c":11,"m":"M12","p":7.67},{"c":11,"m":"M12","p":8.83},{"c":11,"m":"M12","p":8.95},{"c":11,"m":"M12","p":9.1},{"c":11,"m":"M12","p":9.25},{"c":11,"m":"M12","p":9.4},{"c":11,"m":"M12","p":9.55},{"c":11,"m":"M12","p":10.68},{"c":11,"m":"M12","p":11.52},{"c":11,"m":"M12","p":13.48},{"c":11,"m":"M12","p":13.62},{"c":11,"m":"M12","p":14.04},{"c":11,"m":"M12","p":14.53},{"c":11,"m":"M12","p":14.66},{"c":11,"m":"M15","p":10.99},{"c":11,"m":"M25","p":12.19},
{"c":12,"m":"M14","p":0.2},{"c":12,"m":"M14","p":0.32},{"c":12,"m":"M14","p":0.45},{"c":12,"m":"M14","p":0.67},{"c":12,"m":"M14","p":0.8},{"c":12,"m":"M14","p":0.95},{"c":12,"m":"M14","p":1.05},{"c":12,"m":"M14","p":1.15},{"c":12,"m":"M14","p":1.45},{"c":12,"m":"M14","p":1.52},{"c":12,"m":"M14","p":1.92},{"c":12,"m":"M14","p":2.0},{"c":12,"m":"M14","p":2.26},{"c":12,"m":"M14","p":2.34},{"c":12,"m":"M14","p":2.7},{"c":12,"m":"M14","p":3.05},{"c":12,"m":"M14","p":3.27},{"c":12,"m":"M14","p":3.32},{"c":12,"m":"M14","p":3.96},{"c":12,"m":"M14","p":4.1},{"c":12,"m":"M14","p":4.38},{"c":12,"m":"M14","p":5.0},{"c":12,"m":"M14","p":5.32},{"c":12,"m":"M14","p":5.58},{"c":12,"m":"M14","p":5.64},{"c":12,"m":"M14","p":5.8},{"c":12,"m":"M14","p":5.92},{"c":12,"m":"M14","p":6.06},{"c":12,"m":"M14","p":6.2},{"c":12,"m":"M14","p":6.4},{"c":12,"m":"M14","p":6.6},{"c":12,"m":"M14","p":6.76},{"c":12,"m":"M14","p":7.32},{"c":12,"m":"M14","p":7.46},{"c":12,"m":"M14","p":7.95},{"c":12,"m":"M14","p":8.3},{"c":12,"m":"M14","p":9.0},{"c":12,"m":"M14","p":9.12},
{"c":12,"m":"M29","p":9.84},{"c":12,"m":"M29","p":10.12},{"c":12,"m":"M29","p":10.22},{"c":12,"m":"M29","p":10.35},{"c":12,"m":"M29","p":10.45},{"c":12,"m":"M29","p":10.55},{"c":12,"m":"M29","p":10.68},{"c":12,"m":"M29","p":10.8},{"c":12,"m":"M29","p":10.92},{"c":12,"m":"M29","p":11.25},{"c":12,"m":"M29","p":11.4},{"c":12,"m":"M29","p":11.55},{"c":12,"m":"M29","p":11.7},{"c":12,"m":"M29","p":11.8},{"c":12,"m":"M29","p":12.25},{"c":12,"m":"M29","p":12.45},{"c":12,"m":"M29","p":12.55},{"c":12,"m":"M29","p":13.41},{"c":12,"m":"M29","p":13.48},{"c":12,"m":"M29","p":13.55},{"c":12,"m":"M29","p":14.3},{"c":12,"m":"M29","p":14.4},{"c":12,"m":"MZ","p":12.9},
{"c":13,"m":"M7","p":0.1},{"c":13,"m":"M7","p":0.25},{"c":13,"m":"M7","p":1.3},{"c":13,"m":"M7","p":1.4},{"c":13,"m":"M7","p":1.5},{"c":13,"m":"M7","p":2.6},{"c":13,"m":"M7","p":2.7},{"c":13,"m":"M7","p":3.12},{"c":13,"m":"M7","p":3.25},{"c":13,"m":"M7","p":3.4},{"c":13,"m":"M7","p":4.66},{"c":13,"m":"M7","p":5.64},{"c":13,"m":"M7","p":5.78},{"c":13,"m":"M7","p":5.92},{"c":13,"m":"M7","p":6.06},{"c":13,"m":"M7","p":6.34},{"c":13,"m":"M7","p":6.5},{"c":13,"m":"M7","p":6.62},{"c":13,"m":"M7","p":6.76},{"c":13,"m":"M7","p":7.32},{"c":13,"m":"M7","p":7.5},{"c":13,"m":"M7","p":7.88},{"c":13,"m":"M7","p":8.02},{"c":13,"m":"M7","p":8.16},{"c":13,"m":"M7","p":9.1},{"c":13,"m":"M7","p":9.5},{"c":13,"m":"M7","p":9.56},{"c":13,"m":"M7","p":9.85},{"c":13,"m":"M7","p":10.0},{"c":13,"m":"M7","p":10.4},{"c":13,"m":"M7","p":11.6},{"c":13,"m":"M7","p":12.05},{"c":13,"m":"M7","p":12.15},{"c":13,"m":"M7","p":12.36},{"c":13,"m":"M7","p":12.45},{"c":13,"m":"M7","p":12.57},{"c":13,"m":"M7","p":12.71},{"c":13,"m":"M7","p":13.27},{"c":13,"m":"M7","p":13.48},{"c":13,"m":"M7","p":14.1},{"c":13,"m":"M7","p":14.22},{"c":13,"m":"M11","p":0.06},{"c":13,"m":"MZ","p":1.01},{"c":13,"m":"M25","p":12.25},
{"c":14,"m":"M16","p":0.38},{"c":14,"m":"M16","p":0.52},{"c":14,"m":"M16","p":0.66},{"c":14,"m":"M16","p":0.8},{"c":14,"m":"M16","p":0.9},{"c":14,"m":"M16","p":1.0},{"c":14,"m":"M16","p":1.1},{"c":14,"m":"M16","p":1.86},{"c":14,"m":"M16","p":2.0},{"c":14,"m":"M16","p":2.42},{"c":14,"m":"M16","p":2.7},{"c":14,"m":"M16","p":2.84},{"c":14,"m":"M16","p":3.12},{"c":14,"m":"M16","p":3.19},{"c":14,"m":"M16","p":3.47},{"c":14,"m":"M16","p":3.75},{"c":14,"m":"M16","p":3.89},{"c":14,"m":"M16","p":4.03},{"c":14,"m":"M16","p":4.24},{"c":14,"m":"M16","p":4.38},{"c":14,"m":"M16","p":4.52},{"c":14,"m":"M16","p":4.73},{"c":14,"m":"M16","p":4.87},{"c":14,"m":"M16","p":5.5},{"c":14,"m":"M16","p":5.85},{"c":14,"m":"M16","p":6.13},{"c":14,"m":"M16","p":6.34},{"c":14,"m":"M16","p":7.04},{"c":14,"m":"M16","p":7.18},{"c":14,"m":"M16","p":7.46},{"c":14,"m":"M16","p":7.67},{"c":14,"m":"M16","p":8.9},{"c":14,"m":"M16","p":11.55},{"c":14,"m":"M16","p":11.73},{"c":14,"m":"M16","p":11.94},{"c":14,"m":"M16","p":12.08},{"c":14,"m":"M16","p":12.36},{"c":14,"m":"M16","p":12.71},{"c":14,"m":"M16","p":13.34},{"c":14,"m":"M16","p":13.5},{"c":14,"m":"M16","p":13.62},{"c":14,"m":"M16","p":14.04},
{"c":15,"m":"M4","p":0.04},{"c":15,"m":"M4","p":1.15},{"c":15,"m":"M4","p":1.44},{"c":15,"m":"M4","p":1.5},{"c":15,"m":"M4","p":2.35},{"c":15,"m":"M4","p":2.49},{"c":15,"m":"M4","p":2.9},{"c":15,"m":"M4","p":4.03},{"c":15,"m":"M4","p":4.17},{"c":15,"m":"M4","p":5.15},{"c":15,"m":"M4","p":5.22},{"c":15,"m":"M4","p":5.36},{"c":15,"m":"M4","p":5.5},{"c":15,"m":"M4","p":5.64},{"c":15,"m":"M4","p":6.13},{"c":15,"m":"M4","p":6.25},{"c":15,"m":"M4","p":6.4},{"c":15,"m":"M4","p":6.48},{"c":15,"m":"M4","p":7.81},{"c":15,"m":"M4","p":8.0},{"c":15,"m":"M4","p":10.12},{"c":15,"m":"M4","p":12.22},{"c":15,"m":"M4","p":12.36},{"c":15,"m":"M4","p":13.13},{"c":15,"m":"M4","p":13.27},{"c":15,"m":"M4","p":13.4},{"c":15,"m":"M4","p":13.48},
{"c":16,"m":"M6","p":0.1},{"c":16,"m":"M6","p":0.45},{"c":16,"m":"M6","p":1.0},{"c":16,"m":"M6","p":1.15},{"c":16,"m":"M6","p":1.3},{"c":16,"m":"M6","p":1.44},{"c":16,"m":"M6","p":1.58},{"c":16,"m":"M6","p":2.0},{"c":16,"m":"M6","p":2.1},{"c":16,"m":"M6","p":2.22},{"c":16,"m":"M6","p":3.75},{"c":16,"m":"M6","p":3.85},{"c":16,"m":"M6","p":4.0},{"c":16,"m":"M6","p":4.1},{"c":16,"m":"M6","p":4.95},{"c":16,"m":"M6","p":5.0},{"c":16,"m":"M6","p":6.2},{"c":16,"m":"M6","p":6.48},{"c":16,"m":"M6","p":6.69},{"c":16,"m":"M6","p":7.74},{"c":16,"m":"M6","p":7.88},{"c":16,"m":"M6","p":8.44},{"c":16,"m":"M6","p":8.6},{"c":16,"m":"M6","p":8.7},{"c":16,"m":"M6","p":9.0},{"c":16,"m":"M6","p":9.5},{"c":16,"m":"M6","p":9.7},{"c":16,"m":"M6","p":9.85},{"c":16,"m":"M6","p":10.0},{"c":16,"m":"M6","p":10.2},{"c":16,"m":"M6","p":10.4},{"c":16,"m":"M6","p":11.24},{"c":16,"m":"M6","p":11.4},{"c":16,"m":"M6","p":11.55},{"c":16,"m":"M6","p":11.75},{"c":16,"m":"M6","p":11.9},{"c":16,"m":"M6","p":12.05},{"c":16,"m":"M22","p":8.86},
{"c":17,"m":"M21","p":0.38},{"c":17,"m":"M21","p":0.59},{"c":17,"m":"M21","p":0.87},{"c":17,"m":"M21","p":1.08},{"c":17,"m":"M21","p":2.06},{"c":17,"m":"M21","p":2.34},{"c":17,"m":"M21","p":2.84},{"c":17,"m":"M21","p":3.68},{"c":17,"m":"M21","p":3.8},{"c":17,"m":"M21","p":3.95},{"c":17,"m":"M21","p":4.03},{"c":17,"m":"M21","p":4.59},{"c":17,"m":"M21","p":5.15},{"c":17,"m":"M21","p":5.3},{"c":17,"m":"M21","p":5.5},{"c":17,"m":"M21","p":5.64},{"c":17,"m":"M21","p":6.34},{"c":17,"m":"M21","p":7.53},{"c":17,"m":"M21","p":7.8},{"c":17,"m":"M21","p":7.94},{"c":17,"m":"M21","p":8.72},{"c":17,"m":"M21","p":8.86},{"c":17,"m":"M21","p":9.0},{"c":17,"m":"M21","p":9.14},{"c":17,"m":"M21","p":9.28},{"c":17,"m":"M21","p":10.12},{"c":17,"m":"M21","p":10.75},{"c":17,"m":"M21","p":10.85},{"c":17,"m":"M21","p":11.66},{"c":17,"m":"M21","p":11.73},{"c":17,"m":"M21","p":11.87},{"c":17,"m":"M21","p":12.01},{"c":17,"m":"M21","p":13.13},{"c":17,"m":"M21","p":13.27},{"c":17,"m":"M19","p":3.44},{"c":17,"m":"M19","p":10.68},{"c":17,"m":"M11","p":6.13},
{"c":18,"m":"M22","p":0.31},{"c":18,"m":"M22","p":0.8},{"c":18,"m":"M22","p":0.87},{"c":18,"m":"M22","p":1.01},{"c":18,"m":"M22","p":1.15},{"c":18,"m":"M22","p":1.3},{"c":18,"m":"M22","p":1.58},{"c":18,"m":"M22","p":1.79},{"c":18,"m":"M22","p":2.77},{"c":18,"m":"M22","p":3.6},{"c":18,"m":"M22","p":3.9},{"c":18,"m":"M22","p":4.8},{"c":18,"m":"M22","p":5.5},{"c":18,"m":"M22","p":5.92},{"c":18,"m":"M22","p":6.03},{"c":18,"m":"M22","p":6.69},{"c":18,"m":"M22","p":6.83},{"c":18,"m":"M22","p":6.97},{"c":18,"m":"M22","p":7.4},{"c":18,"m":"M22","p":7.5},{"c":18,"m":"M22","p":7.6},{"c":18,"m":"M22","p":9.07},{"c":18,"m":"M22","p":9.91},{"c":18,"m":"M22","p":10.19},{"c":18,"m":"M22","p":11.24},{"c":18,"m":"M22","p":11.31},{"c":18,"m":"M22","p":12.0},{"c":18,"m":"M22","p":12.1},{"c":18,"m":"M22","p":12.5},{"c":18,"m":"M22","p":12.57},{"c":18,"m":"M11","p":11.7},
{"c":19,"m":"M15","p":0.1},{"c":19,"m":"M15","p":1.64},{"c":19,"m":"M15","p":1.72},{"c":19,"m":"M15","p":1.8},{"c":19,"m":"M15","p":1.86},{"c":19,"m":"M15","p":2.07},{"c":19,"m":"M15","p":2.14},{"c":19,"m":"M15","p":2.2},{"c":19,"m":"M15","p":2.28},{"c":19,"m":"M15","p":2.35},{"c":19,"m":"M15","p":2.53},{"c":19,"m":"M15","p":4.7},{"c":19,"m":"M15","p":5.92},{"c":19,"m":"M15","p":6.0},{"c":19,"m":"M15","p":6.1},{"c":19,"m":"M15","p":6.2},{"c":19,"m":"M15","p":6.3},{"c":19,"m":"M15","p":6.4},{"c":19,"m":"M15","p":6.5},{"c":19,"m":"M15","p":6.62},{"c":19,"m":"M15","p":6.9},{"c":19,"m":"M15","p":7.74},{"c":19,"m":"M15","p":8.09},{"c":19,"m":"M15","p":8.2},{"c":19,"m":"M15","p":8.3},{"c":19,"m":"M15","p":8.44},{"c":19,"m":"M15","p":8.58},{"c":19,"m":"M15","p":8.7},{"c":19,"m":"M15","p":9.0},{"c":19,"m":"M15","p":10.4},{"c":19,"m":"M15","p":11.94},{"c":19,"m":"M15","p":12.08},{"c":19,"m":"M12","p":6.83},
{"c":20,"m":"M11","p":0.24},{"c":20,"m":"M11","p":0.38},{"c":20,"m":"M11","p":0.52},{"c":20,"m":"M11","p":0.66},{"c":20,"m":"M11","p":0.73},{"c":20,"m":"M11","p":0.8},{"c":20,"m":"M11","p":1.15},{"c":20,"m":"M11","p":2.7},{"c":20,"m":"M11","p":2.84},{"c":20,"m":"M11","p":3.05},{"c":20,"m":"M11","p":3.2},{"c":20,"m":"M11","p":3.47},{"c":20,"m":"M11","p":3.68},{"c":20,"m":"M11","p":4.17},{"c":20,"m":"M11","p":4.31},{"c":20,"m":"M11","p":5.36},{"c":20,"m":"M11","p":5.43},{"c":20,"m":"M11","p":6.69},{"c":20,"m":"M11","p":6.8},{"c":20,"m":"M11","p":6.9},{"c":20,"m":"M11","p":7.04},{"c":20,"m":"M11","p":7.11},{"c":20,"m":"M11","p":7.25},{"c":20,"m":"M11","p":7.4},{"c":20,"m":"M11","p":7.6},{"c":20,"m":"M11","p":7.95},{"c":20,"m":"M11","p":8.1},{"c":20,"m":"M11","p":8.3},{"c":20,"m":"M11","p":8.44},{"c":20,"m":"M11","p":9.0},{"c":20,"m":"M11","p":9.2},{"c":20,"m":"M11","p":10.12},{"c":20,"m":"M11","p":12.29},
{"c":21,"m":"M10","p":0.94},{"c":21,"m":"M10","p":1.9},{"c":21,"m":"M10","p":2.0},{"c":21,"m":"M10","p":2.1},{"c":21,"m":"M10","p":2.34},{"c":21,"m":"M10","p":2.48},{"c":21,"m":"M10","p":3.1},{"c":21,"m":"M10","p":3.25},{"c":21,"m":"M10","p":3.4},{"c":21,"m":"M10","p":3.55},{"c":21,"m":"M10","p":3.65},{"c":21,"m":"M10","p":3.75},{"c":21,"m":"M10","p":3.96},{"c":21,"m":"M10","p":4.38},{"c":21,"m":"M10","p":5.08},{"c":21,"m":"M10","p":5.5},{"c":21,"m":"M10","p":6.48},{"c":21,"m":"M10","p":6.76},{"c":21,"m":"M10","p":6.9},{"c":21,"m":"M10","p":7.11},{"c":21,"m":"M10","p":7.39},{"c":21,"m":"M10","p":7.53},{"c":21,"m":"M10","p":7.88},{"c":21,"m":"M10","p":10.26},{"c":21,"m":"M10","p":10.4},{"c":21,"m":"M10","p":10.54},{"c":21,"m":"M10","p":10.82},{"c":21,"m":"M10","p":11.73},{"c":21,"m":"M10","p":11.8},{"c":21,"m":"M7","p":12.15},
{"c":22,"m":"M13","p":0.45},{"c":22,"m":"M13","p":0.66},{"c":22,"m":"M13","p":1.01},{"c":22,"m":"M13","p":1.1},{"c":22,"m":"M13","p":1.2},{"c":22,"m":"M13","p":1.3},{"c":22,"m":"M13","p":1.4},{"c":22,"m":"M13","p":1.5},{"c":22,"m":"M13","p":1.6},{"c":22,"m":"M13","p":1.72},{"c":22,"m":"M13","p":1.93},{"c":22,"m":"M13","p":2.0},{"c":22,"m":"M13","p":3.54},{"c":22,"m":"M13","p":3.96},{"c":22,"m":"M13","p":4.17},{"c":22,"m":"M13","p":4.24},{"c":22,"m":"M13","p":5.3},{"c":22,"m":"M13","p":5.62},{"c":22,"m":"M13","p":5.92},{"c":22,"m":"M13","p":6.2},{"c":22,"m":"M13","p":6.76},{"c":22,"m":"M13","p":6.9},{"c":22,"m":"M13","p":7.04},{"c":22,"m":"M13","p":7.18},{"c":22,"m":"M13","p":7.52},{"c":22,"m":"M13","p":7.88},{"c":22,"m":"M13","p":8.09},{"c":22,"m":"M13","p":8.44},{"c":22,"m":"M13","p":8.72},{"c":22,"m":"M13","p":9.28},{"c":22,"m":"M13","p":9.56},{"c":22,"m":"M13","p":10.19},{"c":22,"m":"M13","p":10.3},{"c":22,"m":"M13","p":10.4},{"c":22,"m":"M13","p":10.54},{"c":22,"m":"M13","p":10.68},{"c":22,"m":"M13","p":11.31},{"c":22,"m":"M13","p":11.45},{"c":22,"m":"M13","p":11.56},
{"c":23,"m":"MZ","p":0.09},
{"c":24,"m":"M23","p":0.02},{"c":24,"m":"M23","p":0.1},{"c":24,"m":"M23","p":0.17},{"c":24,"m":"M23","p":0.24},{"c":24,"m":"M23","p":0.94},{"c":24,"m":"M23","p":1.08},{"c":24,"m":"M23","p":1.43},{"c":24,"m":"M23","p":2.27},{"c":24,"m":"M23","p":3.26},{"c":24,"m":"M23","p":3.4},{"c":24,"m":"M23","p":3.6},{"c":24,"m":"M23","p":3.75},{"c":24,"m":"M23","p":3.96},{"c":24,"m":"M23","p":4.1},{"c":24,"m":"M23","p":4.24},{"c":24,"m":"M23","p":4.31},{"c":24,"m":"M23","p":4.52},{"c":24,"m":"M23","p":5.4},{"c":24,"m":"M23","p":5.5},{"c":24,"m":"M23","p":5.64},{"c":24,"m":"M23","p":5.85},{"c":24,"m":"M23","p":6.83},{"c":24,"m":"M23","p":6.97},{"c":24,"m":"M23","p":7.11},{"c":24,"m":"M23","p":8.16},{"c":24,"m":"M23","p":8.3},{"c":24,"m":"M23","p":8.58},{"c":24,"m":"M23","p":8.72},{"c":24,"m":"M23","p":8.86},{"c":24,"m":"M23","p":9.0},{"c":24,"m":"M23","p":9.42},{"c":24,"m":"M23","p":9.84},{"c":24,"m":"M23","p":10.54},{"c":24,"m":"M23","p":10.68},{"c":24,"m":"M23","p":10.96},
{"c":25,"m":"M28","p":0.38},{"c":25,"m":"M28","p":0.8},{"c":25,"m":"M28","p":0.87},{"c":25,"m":"M28","p":1.65},{"c":25,"m":"M28","p":2.14},{"c":25,"m":"M28","p":2.63},{"c":25,"m":"M28","p":2.77},{"c":25,"m":"M28","p":2.98},{"c":25,"m":"M28","p":3.12},{"c":25,"m":"M28","p":3.26},{"c":25,"m":"M28","p":3.4},{"c":25,"m":"M28","p":4.8},{"c":25,"m":"M28","p":5.29},{"c":25,"m":"M28","p":5.43},{"c":25,"m":"M28","p":5.85},{"c":25,"m":"M28","p":6.06},{"c":25,"m":"M28","p":7.6},{"c":25,"m":"M28","p":7.74},{"c":25,"m":"M28","p":7.95},{"c":25,"m":"M28","p":8.16},{"c":25,"m":"M28","p":8.3},{"c":25,"m":"M28","p":8.44},{"c":25,"m":"M28","p":8.58},
{"c":26,"m":"M24","p":0.03},{"c":26,"m":"M24","p":0.17},{"c":26,"m":"M24","p":0.52},{"c":26,"m":"M24","p":0.59},{"c":26,"m":"M24","p":1.23},{"c":26,"m":"M24","p":1.72},{"c":26,"m":"M24","p":1.8},{"c":26,"m":"M24","p":1.93},{"c":26,"m":"M24","p":2.7},{"c":26,"m":"M24","p":3.0},{"c":26,"m":"M24","p":3.26},{"c":26,"m":"M24","p":3.33},{"c":26,"m":"M24","p":3.54},{"c":26,"m":"M24","p":3.75},{"c":26,"m":"M24","p":4.17},{"c":26,"m":"M24","p":4.24},{"c":26,"m":"M24","p":4.38},{"c":26,"m":"M24","p":4.8},{"c":26,"m":"M24","p":5.01},{"c":26,"m":"M24","p":5.71},{"c":26,"m":"M24","p":5.78},{"c":26,"m":"M24","p":5.99},{"c":26,"m":"M24","p":6.13},{"c":26,"m":"M24","p":6.34},{"c":26,"m":"M24","p":6.48},{"c":26,"m":"M24","p":6.62},{"c":26,"m":"M24","p":6.83},{"c":26,"m":"M24","p":7.32},{"c":26,"m":"M24","p":7.39},{"c":26,"m":"M24","p":7.5},{"c":26,"m":"M24","p":7.6},{"c":26,"m":"M24","p":7.88},{"c":26,"m":"M24","p":8.09},{"c":26,"m":"M24","p":8.3},{"c":26,"m":"M24","p":8.44},{"c":26,"m":"M24","p":8.79},{"c":26,"m":"M3","p":0.74},{"c":26,"m":"M12","p":2.49},{"c":26,"m":"M12","p":3.93},{"c":26,"m":"M13","p":4.0},{"c":26,"m":"M19","p":7.25},
{"c":27,"m":"M30","p":0.74},{"c":27,"m":"M30","p":1.01},{"c":27,"m":"M30","p":1.36},{"c":27,"m":"M30","p":1.71},{"c":27,"m":"M30","p":1.8},{"c":27,"m":"M30","p":2.67},{"c":27,"m":"M30","p":2.84},{"c":27,"m":"M30","p":3.05},{"c":27,"m":"M30","p":3.15},{"c":27,"m":"M30","p":3.3},{"c":27,"m":"M30","p":4.59},{"c":27,"m":"M30","p":5.78},{"c":27,"m":"M30","p":6.83},{"c":27,"m":"M30","p":7.0},{"c":27,"m":"M30","p":7.9},{"c":27,"m":"M12","p":0.03},{"c":27,"m":"M16","p":2.04},
{"c":28,"m":"M27","p":1.15},{"c":28,"m":"M27","p":1.29},{"c":28,"m":"M27","p":1.72},{"c":28,"m":"M27","p":1.86},{"c":28,"m":"M27","p":2.0},{"c":28,"m":"M27","p":2.06},{"c":28,"m":"M27","p":2.7},{"c":28,"m":"M27","p":2.84},{"c":28,"m":"M27","p":3.3},{"c":28,"m":"M27","p":3.4},{"c":28,"m":"M27","p":3.47},{"c":28,"m":"M27","p":3.68},{"c":28,"m":"M27","p":4.8},{"c":28,"m":"M27","p":5.57},{"c":28,"m":"M27","p":5.7},{"c":28,"m":"M27","p":6.06},{"c":28,"m":"M27","p":6.34},{"c":28,"m":"M27","p":6.69},
{"c":29,"m":"M25","p":0.1},{"c":29,"m":"M25","p":0.38},{"c":29,"m":"M25","p":0.52},{"c":29,"m":"M25","p":0.59},{"c":29,"m":"M25","p":0.87},{"c":29,"m":"M25","p":1.22},{"c":29,"m":"M25","p":1.99},{"c":29,"m":"M25","p":2.1},{"c":29,"m":"M25","p":2.2},{"c":29,"m":"M25","p":2.3},{"c":29,"m":"M25","p":2.48},{"c":29,"m":"M25","p":2.7},{"c":29,"m":"M25","p":2.84},{"c":29,"m":"M25","p":2.98},{"c":29,"m":"M25","p":3.47},{"c":29,"m":"M25","p":3.6},{"c":29,"m":"M25","p":3.7},{"c":29,"m":"M25","p":3.82},{"c":29,"m":"M25","p":4.1},{"c":29,"m":"M25","p":4.2},{"c":29,"m":"M25","p":4.55},{"c":29,"m":"M25","p":4.66},{"c":29,"m":"M25","p":4.9},{"c":29,"m":"M25","p":5.08},{"c":29,"m":"M25","p":5.43},{"c":29,"m":"M25","p":5.92},{"c":29,"m":"M25","p":6.13},{"c":29,"m":"M25","p":6.2},{"c":29,"m":"M25","p":6.4},{"c":29,"m":"M2","p":0.03},{"c":29,"m":"M2","p":5.85},
{"c":30,"m":"M31","p":0.17},{"c":30,"m":"M31","p":0.38},{"c":30,"m":"M31","p":0.59},{"c":30,"m":"M31","p":1.55},{"c":30,"m":"M31","p":2.06},{"c":30,"m":"M31","p":3.37},{"c":30,"m":"M31","p":4.35},{"c":30,"m":"M31","p":5.43},{"c":30,"m":"M31","p":5.5},{"c":30,"m":"M31","p":5.85},{"c":30,"m":"M31","p":6.06},{"c":30,"m":"M31","p":6.2},{"c":30,"m":"M31","p":6.34},{"c":30,"m":"M28","p":0.83},{"c":30,"m":"M4","p":3.0}
]
},
"layer":[
{"data":{"name":"blocks"},
"transform":[{"lookup":"c","from":{"data":{"name":"chroms"},"key":"c","fields":["name"]}}],
"mark":{"type":"rect","opacity":1},
"encoding":{
"x":{"field":"s","type":"quantitative"},
"x2":{"field":"e"},
"y":{"field":"name","type":"nominal"},
"color":{"field":"m","type":"nominal",
"scale":{"domain":["MZ","M1","M2","M3","M4","M5","M6","M7","M8","M9","M10","M11","M12","M13","M14","M15","M16","M17","M18","M19","M20","M21","M22","M23","M24","M25","M26","M27","M28","M29","M30","M31"],
"range":["#666666","#6A0A9A","#B8077F","#E8005A","#FF2222","#FF9111","#E5C61A","#8CBE0E","#0BA340","#0FF09B","#045C5C","#0B59A1","#0A6DDD","#0B86FF","#A97BFF","#FF1DF0","#FF86CC","#FF6B6B","#EE6A19","#A16A00","#4F6A00","#004800","#14E655","#00917F","#00AADD","#0AC8FF","#A8D0FF","#A8A8E6","#B086C0","#A66288","#8C404E","#6E3021"]},
"legend":{"title":"Merian elements","orient":"none","legendX":542,"legendY":113,"symbolLimit":40,"symbolType":"M-1,-0.32H1V0.32H-1Z","symbolSize":450,"symbolOffset":19,"symbolStrokeWidth":0,"symbolOpacity":1,"labelOffset":8,"rowPadding":-0.3,"titleFontWeight":"normal","titleFontSize":12,"titleColor":"#333","labelFontSize":11,"labelColor":"#333","titlePadding":-2}}
}},
{"data":{"name":"genes"},
"transform":[{"lookup":"c","from":{"data":{"name":"chroms"},"key":"c","fields":["name"]}}],
"mark":{"type":"tick","orient":"vertical","thickness":1.3,"size":20,"opacity":1},
"encoding":{
"x":{"field":"p","type":"quantitative"},
"y":{"field":"name","type":"nominal"},
"color":{"field":"m","type":"nominal"}
}},
{"data":{"name":"chroms"},
"mark":{"type":"rect","filled":false,"stroke":"#8a8a8a","strokeWidth":1.3},
"encoding":{
"x":{"field":"st","type":"quantitative"},
"x2":{"field":"len"},
"y":{"field":"name","type":"nominal"}
}},
{"data":{"name":"chroms"},
"mark":{"type":"text","align":"left","baseline":"middle","dx":9,"fontSize":11,"fill":"#444"},
"encoding":{
"x":{"field":"len","type":"quantitative"},
"y":{"field":"name","type":"nominal"},
"text":{"field":"lab"}
}}
],
"resolve":{"scale":{"color":"shared"}},
"encoding":{
"x":{"type":"quantitative","scale":{"domain":[0,21.45],"nice":false,"zero":true},
"axis":{"title":"Position (Mb)","values":[0,2.5,5,7.5,10,12.5,15,17.5,20],"labelExpr":"datum.value==2.5?'2':datum.value==7.5?'8':datum.value==12.5?'12':datum.value==17.5?'18':datum.label","grid":false,"domainColor":"#555","tickColor":"#555","tickSize":4,"labelFontSize":11,"labelColor":"#444","labelPadding":3,"titleFontSize":12,"titleFontWeight":"normal","titleColor":"#333","titlePadding":5}},
"y":{"field":"name","type":"nominal","scale":{"paddingInner":0.18,"paddingOuter":0.08},
"axis":{"title":null,"domain":false,"grid":false,"tickColor":"#555","tickSize":4,"labelFontSize":10,"labelColor":"#333","labelPadding":4,"offset":1}}
}
}
